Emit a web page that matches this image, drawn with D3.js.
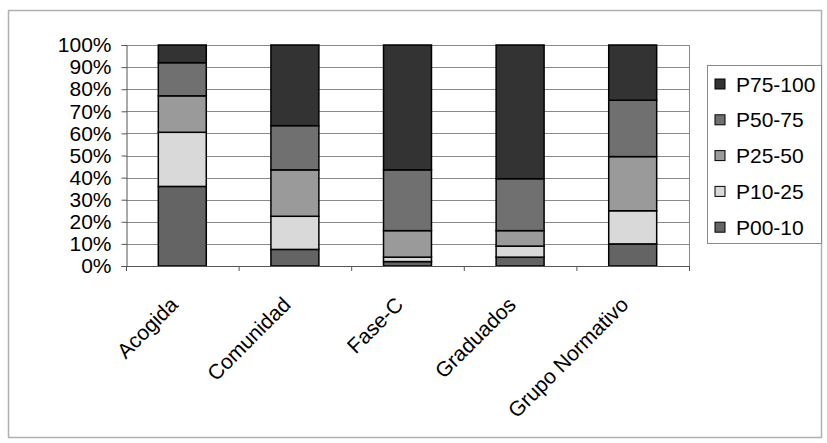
<!DOCTYPE html>
<html>
<head>
<meta charset="utf-8">
<script src="https://cdn.jsdelivr.net/npm/d3@7"></script>
<style>
  body { margin: 0; background: #fff; }
  text { font-family: "Liberation Sans", Arial, sans-serif; fill: #000; }
</style>
</head>
<body>
<svg id="chart" width="827" height="443"></svg>
<script>
var categories = ['Acogida', 'Comunidad', 'Fase-C', 'Graduados', 'Grupo Normativo'];
var seriesNames = ['P00-10', 'P10-25', 'P25-50', 'P50-75', 'P75-100'];
var p00_10  = [36, 7.5, 2, 4, 10];
var p10_25  = [24.5, 15, 2, 5, 15];
var p25_50  = [16.5, 21, 12, 7, 24.5];
var p50_75  = [15, 20, 27.5, 23.5, 25.5];
var p75_100 = [8, 36.5, 56.5, 60.5, 25];
var yTicks = [0, 10, 20, 30, 40, 50, 60, 70, 80, 90, 100];
var seriesColors = ['#646464', '#d9d9d9', '#9a9a9a', '#707070', '#333333'];

var plot = {left: 126, right: 689, top: 45, bottom: 266};

// build rows for the stack
var table = categories.map(function(c, i){
    return {cat: c, 'P00-10': p00_10[i], 'P10-25': p10_25[i], 'P25-50': p25_50[i],
            'P50-75': p50_75[i], 'P75-100': p75_100[i]};
});
var stacked = d3.stack().keys(seriesNames)(table);

var svg = d3.select('#chart');

// outer frame
svg.append('rect')
    .attr('x', 8.5).attr('y', 10.5)
    .attr('width', 813).attr('height', 427)
    .attr('fill', '#fff')
    .attr('stroke', '#b0b0b0')
    .attr('stroke-width', 1.5);

var x = d3.scaleBand()
    .domain(categories)
    .range([plot.left, plot.right])
    .paddingInner(0.574)
    .paddingOuter(0.287);

var y = d3.scaleLinear()
    .domain([0, 100])
    .range([plot.bottom, plot.top]);

var color = d3.scaleOrdinal().domain(seriesNames).range(seriesColors);

// gridlines
svg.selectAll('.grid')
    .data(yTicks.filter(d => d > 0))
    .join('line')
    .attr('class', 'grid')
    .attr('x1', plot.left).attr('x2', plot.right)
    .attr('y1', d => Math.round(y(d)) + 0.5)
    .attr('y2', d => Math.round(y(d)) + 0.5)
    .attr('stroke', '#8a8a8a')
    .attr('stroke-width', 1);

// right border of the plot area
svg.append('line')
    .attr('x1', plot.right + 0.5).attr('x2', plot.right + 0.5)
    .attr('y1', plot.top).attr('y2', plot.bottom)
    .attr('stroke', '#8a8a8a');

// bars
svg.selectAll('.series')
    .data(stacked)
    .join('g')
    .attr('class', 'series')
    .attr('fill', d => color(d.key))
    .selectAll('rect')
    .data(d => d)
    .join('rect')
    .attr('x', d => x(d.data.cat))
    .attr('width', x.bandwidth())
    .attr('y', d => y(d[1]))
    .attr('height', d => y(d[0]) - y(d[1]))
    .attr('stroke', '#000')
    .attr('stroke-width', 1.5);

// y axis
var yAxis = d3.axisLeft(y)
    .tickValues(yTicks)
    .tickFormat(d => d + '%')
    .tickSize(5)
    .tickPadding(10);
var gy = svg.append('g')
    .attr('transform', 'translate(' + (plot.left + 0.5) + ',0)')
    .call(yAxis);
gy.select('.domain').attr('stroke', '#555');
gy.selectAll('.tick line').attr('stroke', '#555');
gy.selectAll('.tick text')
    .attr('font-size', 21)
    .attr('font-family', '"Liberation Sans", Arial, sans-serif')
    .attr('fill', '#000')
    .attr('x', -15);

// x axis line with ticks between categories
svg.append('line')
    .attr('x1', plot.left).attr('x2', plot.right)
    .attr('y1', plot.bottom + 0.5).attr('y2', plot.bottom + 0.5)
    .attr('stroke', '#555');
var step = x.step();
svg.selectAll('.xtick')
    .data(d3.range(categories.length + 1))
    .join('line')
    .attr('class', 'xtick')
    .attr('x1', i => plot.left + i * step + 0.5)
    .attr('x2', i => plot.left + i * step + 0.5)
    .attr('y1', plot.bottom)
    .attr('y2', plot.bottom + 5)
    .attr('stroke', '#555');

// rotated category labels
svg.selectAll('.xlabel')
    .data(categories)
    .join('text')
    .attr('class', 'xlabel')
    .attr('text-anchor', 'end')
    .attr('font-size', 21)
    .attr('transform', d => {
        var cx = x(d) + x.bandwidth() / 2 - 3;
        return 'translate(' + cx + ',' + 306 + ') rotate(-45)';
    })
    .text(d => d);

// legend
var legend = svg.append('g').attr('transform', 'translate(707,65)');
legend.append('rect')
    .attr('x', 0.5).attr('y', 0.5)
    .attr('width', 114).attr('height', 178)
    .attr('fill', '#fff')
    .attr('stroke', '#8a8a8a');
var legendOrder = seriesNames.slice().reverse();
var items = legend.selectAll('.item')
    .data(legendOrder)
    .join('g')
    .attr('class', 'item')
    .attr('transform', (d, i) => 'translate(8,' + (19 + i * 35.8) + ')');
items.append('rect')
    .attr('x', 0).attr('y', -5)
    .attr('width', 10).attr('height', 10)
    .attr('fill', d => color(d))
    .attr('stroke', '#000')
    .attr('stroke-width', 1);
items.append('text')
    .attr('x', 21).attr('y', 0)
    .attr('dy', '0.36em')
    .attr('font-size', 21)
    .text(d => d);
</script>
</body>
</html>
